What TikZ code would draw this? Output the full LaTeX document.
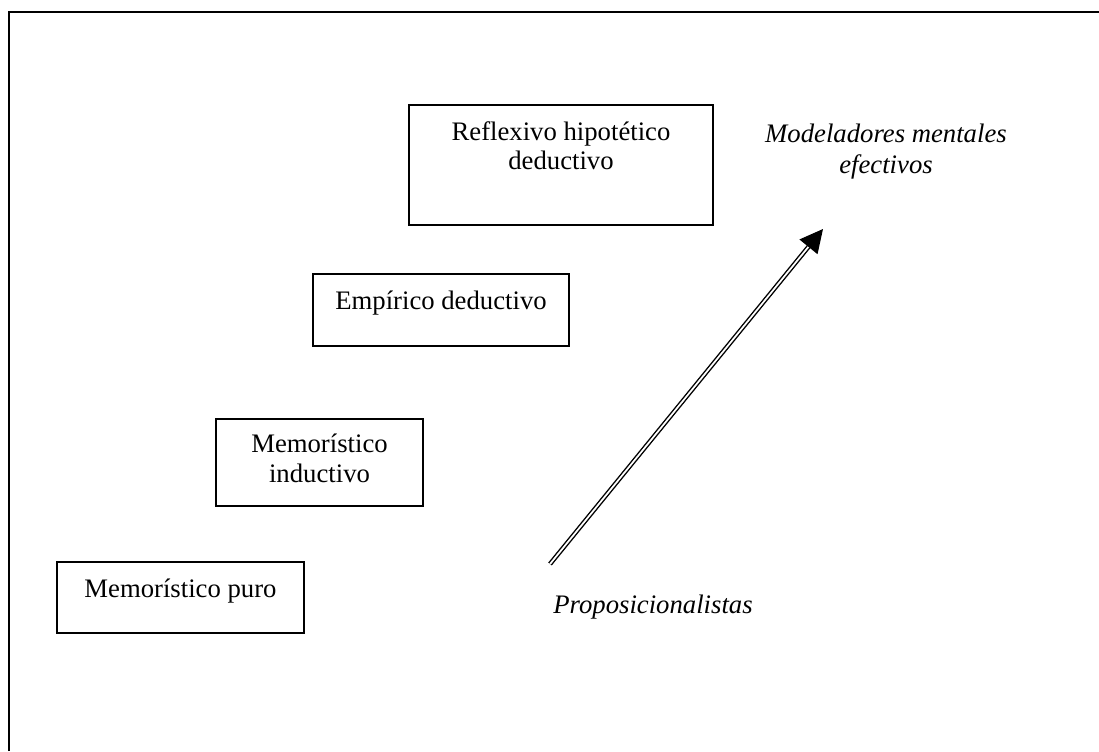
\documentclass[tikz,border=0pt]{standalone}
\usepackage{fontspec}
\setmainfont{Liberation Serif}
\usetikzlibrary{arrows.meta}

\tikzset{
  frame/.style={line width=1.1pt},
  box/.style={draw,rectangle,line width=0.8pt,inner sep=0pt},
  boxtext/.style={anchor=base,align=center,inner sep=0pt,
    font=\fontsize{15.2}{16.8}\selectfont},
  note/.style={anchor=base,align=center,inner sep=0pt,
    font=\fontsize{15.2}{17.6}\selectfont\itshape},
  climb/.style={double,double distance=1pt,line width=0.8pt,
    -{Triangle[length=0.46cm,width=0.46cm]}}
}

\begin{document}
\begin{tikzpicture}[x=0.02cm,y=-0.02cm]
  \useasboundingbox (0,0) rectangle (1099,751);
  \draw[frame] (9,751) -- (9,12) -- (1099,12);

  % the four levels, lowest at the left
  \node[box,minimum width=4.94cm,minimum height=1.42cm] (puro) at (180.5,597.5) {};
  \node[boxtext] (purot) at ([yshift=-0.72cm]puro.north) {Memorístico puro};

  \node[box,minimum width=4.14cm,minimum height=1.74cm] (induct) at (319.5,462.5) {};
  \node[boxtext] (inductt) at ([yshift=-1.28cm]induct.north) {Memorístico\\inductivo};

  \node[box,minimum width=5.12cm,minimum height=1.44cm] (empir) at (441,310) {};
  \node[boxtext] (empirt) at ([yshift=-0.72cm]empir.north) {Empírico deductivo};

  \node[box,minimum width=6.08cm,minimum height=2.4cm] (reflex) at (561,165) {};
  \node[boxtext] (reflext) at ([yshift=-1.31cm]reflex.north) {Reflexivo hipotético\\deductivo};

  % the two ends of the scale
  \node[note,anchor=base west] (prop) at (553,613) {Proposicionalistas};
  \node[note] (model) at (886,173) {Modeladores mentales\\efectivos};

  \coordinate (low) at (550,564);
  \coordinate (high) at (823,229);
  \draw[climb] (low) -- (high);
\end{tikzpicture}
\end{document}
